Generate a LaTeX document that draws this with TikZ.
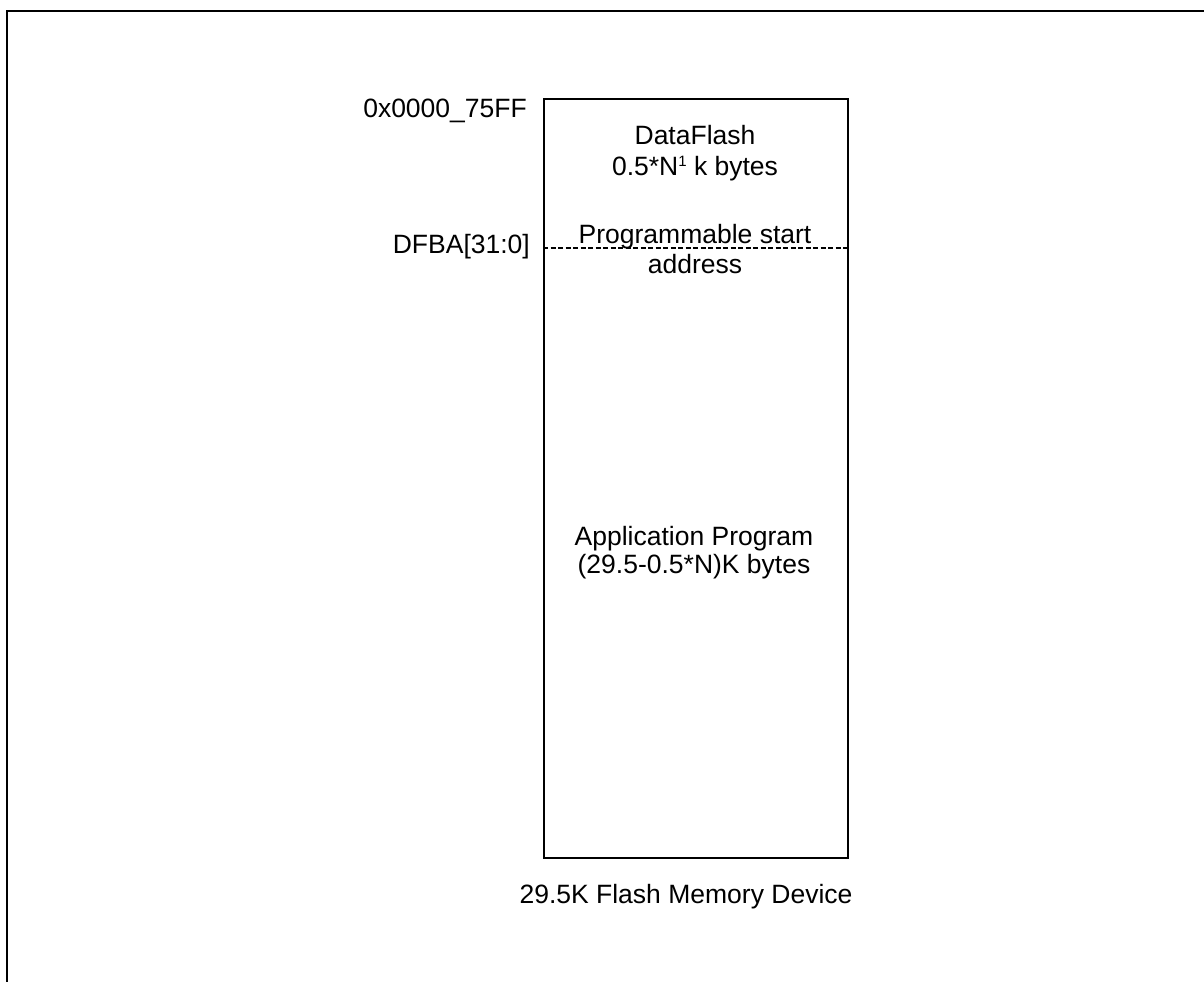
\documentclass[tikz,border=0pt]{standalone}
\usepackage{fontspec}
\setmainfont{Liberation Sans}
\begin{document}
\begin{tikzpicture}[x=1bp,y=-1bp,
  lbl/.style={inner sep=0pt,font=\fontsize{26.5bp}{30bp}\selectfont},
  frameline/.style={line width=2.6bp},
  memline/.style={line width=2.4bp},
  dashline/.style={line width=2.6bp,dash pattern=on 5bp off 2.5bp}]
\useasboundingbox (0,0) rectangle (1204,982);
\coordinate (fbl) at (7,982);
\coordinate (ftl) at (7,11);
\coordinate (ftr) at (1204,11);
\draw[frameline] (fbl) -- (ftl) -- (ftr);
\node[memline,draw,inner sep=0pt,minimum width=304bp,minimum height=759bp,anchor=north west] (mem) at (543,98) {};
\coordinate (dl) at (543,248);
\coordinate (dr) at (847,248);
\draw[dashline] (dl) -- (dr);
\node[lbl,anchor=base east] (top) at (527,117) {0x0000\_75FF};
\node[lbl,anchor=base east] (dfba) at (530,253) {DFBA[31:0]};
\node[lbl,anchor=base] (df1) at (695,144) {DataFlash};
\node[lbl,anchor=base] (df2) at (695,175) {0.5*N\raisebox{9bp}{\fontsize{15bp}{15bp}\selectfont 1} k bytes};
\node[lbl,anchor=base] (ps1) at (695,243) {Programmable start};
\node[lbl,anchor=base] (ps2) at (695,273) {address};
\node[lbl,anchor=base] (ap1) at (694,545) {Application Program};
\node[lbl,anchor=base] (ap2) at (694,573) {(29.5-0.5*N)K bytes};
\node[lbl,anchor=base] (cap) at (686,903) {29.5K Flash Memory Device};
\end{tikzpicture}
\end{document}
